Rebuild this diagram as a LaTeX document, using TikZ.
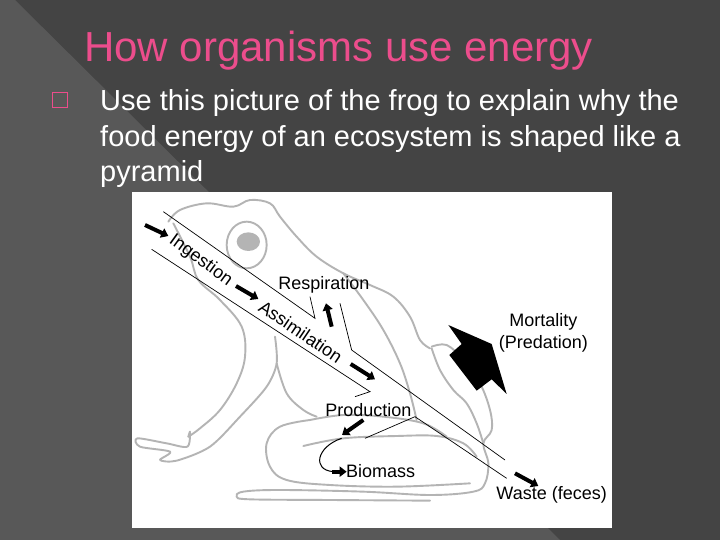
\documentclass[tikz,border=0pt]{standalone}
\usepackage{fontspec}
\setmainfont{Liberation Sans}
\usetikzlibrary{arrows.meta}
\definecolor{bgdark}{HTML}{444444}
\definecolor{bglight}{HTML}{585858}
\definecolor{titlepink}{HTML}{EC4D8C}
\definecolor{froggray}{HTML}{B4B4B4}
\tikzset{
  frog/.style={draw=froggray, line width=1.9pt, line cap=round, line join=round},
  chan/.style={draw=black, line width=0.7pt},
  fat/.style={draw=black, line width=4pt, -{Triangle[width=10pt,length=7pt]}},
  lbl/.style={font=\fontsize{18}{20}\selectfont, inner sep=0pt},
  body/.style={font=\fontsize{29}{32}\selectfont, text=white, anchor=base west, inner sep=0pt}
}
\begin{document}
\begin{tikzpicture}[x=1pt,y=-1pt]
\useasboundingbox (0,0) rectangle (720,540);
\fill[bgdark] (0,0) rectangle (720,540);
\fill[bglight] (0,0) -- (15,0) -- (560,540) -- (0,540) -- cycle;
\node[font=\fontsize{42}{44}\selectfont, text=titlepink, anchor=base west, inner sep=0pt] (title) at (84,62) {How organisms use energy};
\node[draw=titlepink, line width=1pt, minimum size=15pt, inner sep=0pt] (bullet) at (60,100) {};
\node[body] (l1) at (100,111) {Use this picture of the frog to explain why the};
\node[body] (l2) at (100,147) {food energy of an ecosystem is shaped like a};
\node[body] (l3) at (100,182) {pyramid};
\fill[white] (132,192) rectangle (612,528);
\begin{scope}[shift={(130,190)}, scale=1/3]
% frog outline
\draw[frog] plot[smooth, tension=0.6] coordinates {(115,95) (150,60) (230,40) (310,50) (360,30) (420,40) (450,80) (500,140) (560,200) (640,250) (720,285) (790,320) (840,380) (870,450) (900,475)};
\draw[frog] plot[smooth, tension=0.6] coordinates {(905,470) (950,465) (1000,510) (1050,580) (1080,660) (1085,720) (1060,760) (1075,820) (1065,880) (1030,905) (900,915) (700,905) (450,900) (340,905) (320,920) (360,928) (600,930) (900,932)};
\draw[frog] plot[smooth, tension=0.6] coordinates {(540,690) (450,710) (410,760) (420,830) (470,870) (600,885) (800,890) (1020,880)};
\draw[frog] plot[smooth, tension=0.6] coordinates {(520,768) (640,745) (800,738) (920,738) (1000,760) (1040,800)};
\draw[frog] plot[smooth, tension=0.6] coordinates {(540,690) (640,675) (760,680) (880,700) (950,740)};
\draw[frog] plot[smooth, tension=0.6] coordinates {(130,100) (180,200) (205,270) (270,330) (335,410) (345,500) (320,580) (270,660) (210,715) (175,740)};
\draw[frog] plot[smooth, tension=0.5] coordinates {(175,740) (180,725) (172,770) (110,760) (22,745) (30,770) (120,785) (90,810) (140,812) (240,770) (330,680) (410,590) (440,520) (435,440)};
\draw[frog] plot[smooth, tension=0.6] coordinates {(440,520) (470,610) (520,660) (560,680)};
\draw[frog] plot[smooth, tension=0.6] coordinates {(640,250) (700,330) (760,420) (810,520) (840,610) (860,690)};
\draw[frog] plot[smooth, tension=0.6] coordinates {(905,475) (930,540) (970,600) (1010,640) (1040,700) (1060,760)};
\draw[frog] (350,165) ellipse [x radius=60, y radius=70];
\fill[froggray] (355,155) ellipse [x radius=35, y radius=28];
% channel lines
\draw[chan] (100,65) -- (555,385) -- (540,320);
\draw[chan] (630,340) -- (665,480) -- (1125,810);
\draw[chan] (65,178) -- (720,605) -- (675,620);
\draw[chan] (705,745) -- (855,680) -- (1130,865);
\draw[chan, line width=1pt] (635,745) .. controls (560,770) and (545,840) .. (610,845);
% fat arrows
\coordinate (a1s) at (45,105); \coordinate (a1e) at (115,138);
\coordinate (a2s) at (318,288); \coordinate (a2e) at (385,327);
\coordinate (a3s) at (605,410); \coordinate (a3e) at (588,340);
\coordinate (a4s) at (662,522); \coordinate (a4e) at (735,568);
\coordinate (a5s) at (700,690); \coordinate (a5e) at (636,735);
\coordinate (a6s) at (605,845); \coordinate (a6e) at (650,845);
\coordinate (a7s) at (1155,850); \coordinate (a7e) at (1225,888);
\foreach \i in {1,...,7} \draw[fat] (a\i s) -- (a\i e);
% mortality arrow
\fill[black] (955,405) -- (1085,462) -- (1130,612) -- (1085,568) -- (1040,602) -- (958,495) -- (995,462) -- cycle;
% labels
\node[lbl, rotate=-36] (ing) at (212,212) {Ingestion};
\node[lbl, rotate=-34] (ass) at (512,425) {Assimilation};
\node[lbl] (resp) at (582,285) {Respiration};
\node[lbl] (mort) at (1240,395) {Mortality};
\node[lbl] (pred) at (1240,462) {(Predation)};
\node[lbl] (prod) at (715,660) {Production};
\node[lbl] (bio) at (752,842) {Biomass};
\node[lbl] (waste) at (1265,915) {Waste (feces)};
\end{scope}
\end{tikzpicture}
\end{document}
